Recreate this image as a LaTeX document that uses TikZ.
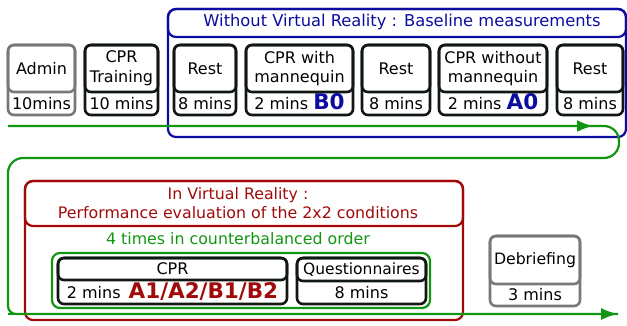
\documentclass[tikz,border=0pt]{standalone}
\usepackage{fontspec}
\setmainfont{DejaVu Sans}
\usetikzlibrary{arrows.meta}
\definecolor{myblue}{RGB}{12,12,160}
\definecolor{myred}{RGB}{160,10,10}
\definecolor{mygreen}{RGB}{18,150,18}
\definecolor{mygray}{RGB}{120,120,120}
\definecolor{myblack}{RGB}{17,24,17}
\newcommand\mystep[9]{%
  \node[outerbox,draw=#7,minimum width={(#3-#2)*1pt},minimum height={(#6-#4)*1pt}] (#1) at ({(#2+#3)/2},{(#4+#6)/2}) {};
  \node[outerbox,draw=#7,minimum width={(#3-#2)*1pt},minimum height={(#5-#4)*1pt},align=center] (#1-top) at ({(#2+#3)/2},{(#4+#5)/2}) {#8};
  \node[txt,anchor=base] (#1-bot) at ({(#2+#3)/2},{#6-5.5}) {#9};
}
\newcommand\bigb[2]{{\fontsize{21.5}{22}\selectfont\bfseries\color{#1}#2}}
\begin{document}
\begin{tikzpicture}[x=1pt,y=-1pt,
  every node/.style={font=\fontsize{16}{19.8}\selectfont},
  outerbox/.style={rectangle,rounded corners=6pt,line width=2.6pt,inner sep=0pt,outer sep=0pt},
  txt/.style={inner sep=0pt},
  frame/.style={rectangle,rounded corners=8pt,line width=2.2pt,inner sep=0pt,outer sep=0pt},
  gline/.style={draw=mygreen,line width=2.2pt}]
\useasboundingbox (0,0) rectangle (627,325);
% blue frame
\node[frame,draw=myblue,minimum width=458pt,minimum height=128pt] (blueframe) at (397,73) {};
\node[frame,draw=myblue,minimum width=458pt,minimum height=28pt] (bluehead) at (397,23) {};
\node[txt,text=myblue,font=\fontsize{16.3}{19.8}\selectfont] (bluetitle) at (402,22) {Without Virtual Reality : Baseline measurements};
% top row
\mystep{admin}{8}{75}{45}{92}{115}{mygray}{Admin}{10mins}
\mystep{train}{85}{158}{45}{92}{115}{myblack}{CPR\\Training}{10 mins}
\mystep{rest1}{174}{236}{45}{92}{115}{myblack}{Rest}{8 mins}
\mystep{withm}{246}{353}{45}{92}{115}{myblack}{CPR with\\mannequin}{2 mins \bigb{myblue}{B0}}
\mystep{rest2}{362}{430}{45}{92}{115}{myblack}{Rest}{8 mins}
\mystep{withoutm}{439}{547}{45}{92}{115}{myblack}{CPR without\\mannequin}{2 mins \bigb{myblue}{A0}}
\mystep{rest3}{557}{623}{45}{92}{115}{myblack}{Rest}{8 mins}
% red frame
\node[frame,draw=myred,minimum width=438pt,minimum height=139pt] (redframe) at (244,250.5) {};
\node[frame,draw=myred,minimum width=438pt,minimum height=45pt] (redhead) at (244,203.5) {};
\node[txt,text=myred,align=center,font=\fontsize{15.8}{19.5}\selectfont] (redtitle) at (238,203) {In Virtual Reality :\\Performance evaluation of the 2x2 conditions};
\node[txt,text=mygreen,font=\fontsize{15.8}{19.5}\selectfont] (times) at (238,239) {4 times in counterbalanced order};
% green inner frame
\node[frame,draw=mygreen,minimum width=378pt,minimum height=55pt] (greenframe) at (241,280.5) {};
\mystep{cpr}{58}{287}{258}{280}{304}{myblack}{CPR}{2 mins\enspace\bigb{myred}{A1/A2/B1/B2}}
\mystep{quest}{297}{426}{258}{281}{304}{myblack}{{\fontsize{15.5}{18}\selectfont Questionnaires}}{8 mins}
\mystep{debrief}{490}{580}{236}{284}{306}{mygray}{{\fontsize{15.7}{18}\selectfont Debriefing}}{3 mins}
% green timeline
\coordinate (gstart) at (8,126);
\coordinate (gmid) at (593,126);
\coordinate (g1) at (619,126);
\coordinate (g2) at (619,158);
\coordinate (g3) at (8,158);
\coordinate (g4) at (8,314);
\coordinate (gend) at (618,314);
\draw[gline,rounded corners=15pt] (gstart) -- (g1) -- (g2) -- (g3) [rounded corners=8pt] -- (g4) -- (gend);
\draw[gline,-{Latex[length=16pt,width=12pt]}] (gstart) -- (gmid);
\draw[gline,-{Latex[length=17pt,width=12pt]}] (g4) -- (gend);
\end{tikzpicture}
\end{document}
